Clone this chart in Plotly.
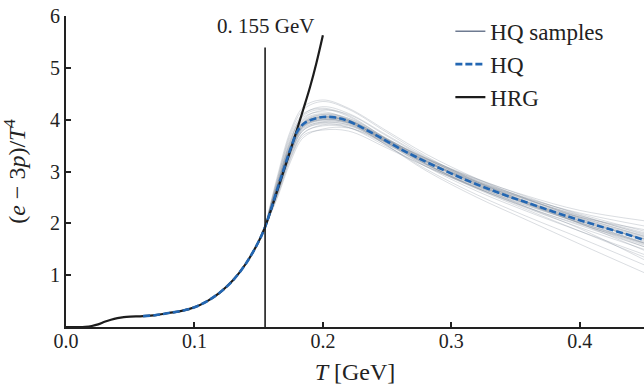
import plotly.graph_objects as go

# ---------------- data ----------------
T_hrg = [0.0, 0.005, 0.01, 0.015, 0.02, 0.025, 0.03, 0.035, 0.04, 0.045, 0.05, 0.06, 0.07,
         0.08, 0.09, 0.10, 0.11, 0.12, 0.13, 0.14, 0.15, 0.155, 0.16, 0.165, 0.17, 0.175,
         0.18, 0.185, 0.19, 0.195, 0.20]
hrg = [0.0, 0.0, 0.0, 0.005, 0.02, 0.05, 0.10, 0.14, 0.17, 0.19, 0.20, 0.21, 0.23,
       0.27, 0.31, 0.38, 0.50, 0.67, 0.90, 1.22, 1.65, 1.93, 2.29, 2.67, 3.05, 3.43,
       3.82, 4.22, 4.63, 5.10, 5.63]

T_hq = [0.06, 0.07, 0.08, 0.09, 0.10, 0.11, 0.12, 0.13, 0.14, 0.15, 0.155, 0.16, 0.165,
        0.17, 0.175, 0.18, 0.185, 0.19, 0.20, 0.21, 0.22, 0.24, 0.26, 0.28, 0.30, 0.32,
        0.34, 0.36, 0.38, 0.40, 0.42, 0.44, 0.45]
hq = [0.21, 0.23, 0.27, 0.31, 0.38, 0.50, 0.67, 0.90, 1.22, 1.65, 1.93, 2.30, 2.70,
      3.08, 3.45, 3.77, 3.92, 3.99, 4.05, 4.04, 3.97, 3.72, 3.44, 3.19, 2.96, 2.75,
      2.56, 2.39, 2.22, 2.06, 1.91, 1.76, 1.68]

T_samp = [0.155, 0.165, 0.175, 0.185, 0.20, 0.22, 0.25, 0.28, 0.32, 0.36, 0.40, 0.45]
samples = [
    [1.93, 2.80, 3.60, 4.10, 4.25, 4.12, 3.70, 3.28, 2.82, 2.45, 2.12, 1.75],
    [1.93, 2.62, 3.35, 3.80, 3.92, 3.85, 3.48, 3.10, 2.68, 2.33, 2.01, 1.64],
    [1.94, 2.90, 3.75, 4.20, 4.35, 4.20, 3.75, 3.30, 2.80, 2.40, 2.05, 1.62],
    [1.92, 2.55, 3.25, 3.70, 3.80, 3.78, 3.45, 3.10, 2.70, 2.36, 2.05, 1.70],
    [1.93, 2.75, 3.50, 3.95, 4.10, 4.02, 3.60, 3.15, 2.68, 2.28, 1.92, 1.50],
    [1.93, 2.68, 3.42, 3.88, 4.00, 3.95, 3.60, 3.24, 2.82, 2.48, 2.18, 1.85],
    [1.94, 2.85, 3.65, 4.05, 4.15, 4.00, 3.55, 3.10, 2.62, 2.22, 1.85, 1.40],
    [1.92, 2.60, 3.30, 3.75, 3.88, 3.85, 3.52, 3.18, 2.78, 2.45, 2.15, 1.82],
    [1.93, 2.72, 3.48, 3.93, 4.05, 3.96, 3.56, 3.16, 2.73, 2.38, 2.08, 1.72],
    [1.93, 2.78, 3.55, 4.00, 4.12, 4.03, 3.64, 3.22, 2.76, 2.38, 2.02, 1.60],
    [1.92, 2.58, 3.28, 3.74, 3.90, 3.88, 3.55, 3.18, 2.74, 2.36, 2.00, 1.58],
    [1.94, 2.95, 3.80, 4.25, 4.38, 4.22, 3.78, 3.34, 2.86, 2.46, 2.10, 1.68],
    [1.93, 2.66, 3.40, 3.86, 3.98, 3.92, 3.56, 3.20, 2.80, 2.47, 2.20, 1.95],
    [1.93, 2.70, 3.46, 3.90, 4.02, 3.93, 3.50, 3.05, 2.55, 2.12, 1.72, 1.20],
    [1.93, 2.74, 3.52, 3.96, 4.08, 4.00, 3.62, 3.24, 2.85, 2.52, 2.25, 2.05],
    [1.93, 2.64, 3.38, 3.84, 3.95, 3.90, 3.52, 3.12, 2.66, 2.25, 1.85, 1.35],
    [1.93, 2.82, 3.58, 4.02, 4.18, 4.10, 3.68, 3.26, 2.78, 2.40, 2.06, 1.70],
    [1.92, 2.52, 3.20, 3.66, 3.82, 3.84, 3.55, 3.20, 2.78, 2.42, 2.10, 1.74],
    [1.93, 2.76, 3.50, 3.94, 4.06, 3.98, 3.58, 3.20, 2.76, 2.40, 2.08, 1.66],
    [1.93, 2.70, 3.44, 3.90, 4.04, 3.98, 3.60, 3.20, 2.74, 2.36, 2.00, 1.55],
    [1.93, 2.88, 3.70, 4.12, 4.22, 4.08, 3.62, 3.16, 2.68, 2.30, 1.98, 1.62],
    [1.93, 2.62, 3.36, 3.82, 3.96, 3.94, 3.60, 3.26, 2.86, 2.50, 2.16, 1.78],
    [1.93, 2.72, 3.46, 3.92, 4.06, 3.99, 3.63, 3.25, 2.80, 2.40, 2.00, 1.48],
    [1.93, 2.68, 3.40, 3.86, 4.00, 3.95, 3.58, 3.22, 2.76, 2.37, 2.04, 1.70],
    [1.93, 2.80, 3.62, 4.08, 4.20, 4.06, 3.62, 3.20, 2.72, 2.30, 1.90, 1.30],
    [1.93, 2.66, 3.42, 3.88, 4.02, 3.98, 3.62, 3.26, 2.84, 2.46, 2.14, 1.80],
    [1.93, 2.74, 3.48, 3.92, 4.04, 3.97, 3.56, 3.14, 2.70, 2.34, 2.02, 1.62],
    [1.93, 2.60, 3.34, 3.80, 3.94, 3.90, 3.58, 3.22, 2.80, 2.44, 2.12, 1.76],
    [1.93, 2.76, 3.54, 3.98, 4.10, 4.00, 3.58, 3.14, 2.68, 2.30, 1.96, 1.55],
    [1.93, 2.70, 3.44, 3.88, 4.00, 3.94, 3.54, 3.14, 2.72, 2.40, 2.12, 1.88],
    [1.93, 2.72, 3.48, 3.94, 4.06, 3.96, 3.50, 3.02, 2.50, 2.05, 1.60, 1.05],
]

Tc = 0.155
Tc_line = [0.0, 5.39]
Tc_label = "0. 155 GeV"

x_ticks = [0.0, 0.1, 0.2, 0.3, 0.4]
x_ticklabels = ["0.0", "0.1", "0.2", "0.3", "0.4"]
y_ticks = [1, 2, 3, 4, 5, 6]
y_ticklabels = ["1", "2", "3", "4", "5", "6"]

# ---------------- figure ----------------
SERIF = "Liberation Serif, Times New Roman, serif"
fig = go.Figure()

for s in samples:
    fig.add_trace(go.Scatter(x=T_samp, y=s, mode="lines",
                             line=dict(color="rgba(120,130,145,0.3)", width=0.9, shape="spline"),
                             showlegend=False, hoverinfo="skip"))

# legend proxy for samples
fig.add_trace(go.Scatter(x=[None], y=[None], mode="lines", name="HQ samples",
                         line=dict(color="#6e7b91", width=1.6), legendrank=1))

fig.add_trace(go.Scatter(x=T_hrg, y=hrg, mode="lines", name="HRG",
                         line=dict(color="#1c1c1c", width=2.2, shape="spline"), legendrank=3))

fig.add_trace(go.Scatter(x=T_hq, y=hq, mode="lines", name="HQ",
                         line=dict(color="#2367b3", width=2.6, dash="7px,3px", shape="spline"), legendrank=2))

fig.add_trace(go.Scatter(x=[Tc, Tc], y=Tc_line, mode="lines", showlegend=False,
                         line=dict(color="#1c1c1c", width=1.6), hoverinfo="skip"))

fig.add_annotation(x=Tc, y=5.8, text=Tc_label, showarrow=False, xanchor="center", yanchor="middle",
                   font=dict(family=SERIF, size=21, color="#222"))

fig.update_layout(
    width=644, height=389,
    margin=dict(l=66, r=0, t=16, b=62),
    paper_bgcolor="white", plot_bgcolor="white",
    font=dict(family=SERIF, size=20, color="#222"),
    legend=dict(x=0.665, y=1.02, xanchor="left", yanchor="top", bgcolor="rgba(0,0,0,0)",
                font=dict(family=SERIF, size=23, color="#222"), tracegroupgap=0),
    xaxis=dict(range=[0, 0.45], tickvals=x_ticks, ticktext=x_ticklabels, showgrid=False, zeroline=False,
               showline=True, linecolor="#222", linewidth=2, ticks="inside", ticklen=5, tickwidth=1.6,
               tickcolor="#222", ticklabelstandoff=-5,
               title=dict(text="<i>T</i> [GeV]", font=dict(size=24), standoff=12)),
    yaxis=dict(range=[0, 6], tickvals=y_ticks, ticktext=y_ticklabels, showgrid=False, zeroline=False,
               showline=True, linecolor="#222", linewidth=2, ticks="inside", ticklen=5, tickwidth=1.6,
               tickcolor="#222",
               title=dict(text="(<i>e</i> − 3<i>p</i>)/<i>T</i><sup>4</sup>", font=dict(size=24), standoff=20)),
)

fig.write_html("out.html", post_script="document.body.style.margin='0';",
               config={"displayModeBar": False})
